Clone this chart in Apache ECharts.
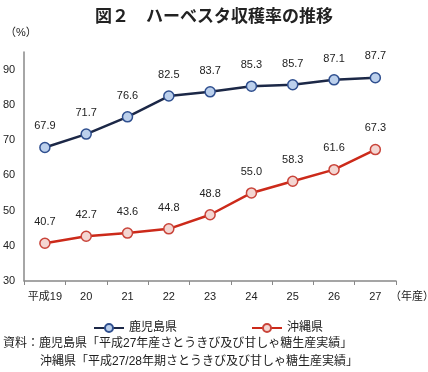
<!DOCTYPE html>
<html><head><meta charset="utf-8">
<script src="https://cdn.jsdelivr.net/npm/echarts@6/dist/echarts.min.js"></script>
<style>html,body{margin:0;padding:0;background:#fff}#c{width:428px;height:372px}</style>
</head><body><div id="c"></div>
<script>
const categories = ['平成19','20','21','22','23','24','25','26','27'];
const kagoshima = [67.9,71.7,76.6,82.5,83.7,85.3,85.7,87.1,87.7];
const okinawa = [40.7,42.7,43.6,44.8,48.8,55.0,58.3,61.6,67.3];
const seriesNames = ['鹿児島県','沖縄県'];
const font = '"Liberation Sans", "Noto Sans CJK JP", sans-serif';
const chart = echarts.init(document.getElementById('c'));
chart.setOption({
  animation:false,
  textStyle:{fontFamily:font},
  title:{text:'図２　ハーベスタ収穫率の推移',left:'center',top:2,textStyle:{fontSize:17,fontWeight:'bold',color:'#222',fontFamily:'"Noto Sans CJK JP", sans-serif'}},
  grid:{left:22,right:32,top:52,bottom:91},
  legend:{top:317,left:88,itemGap:74,itemWidth:30,itemHeight:10,textStyle:{fontSize:12,color:'#222'},data:seriesNames},
  xAxis:{type:'category',data:categories,boundaryGap:true,
    axisLine:{lineStyle:{color:'#888',width:1.5}},
    axisTick:{show:true,length:4,lineStyle:{color:'#888'}},
    axisLabel:{fontSize:11,color:'#222',margin:10,interval:0}},
  yAxis:{type:'value',min:30,max:95,interval:10,
    axisLine:{show:true,lineStyle:{color:'#888',width:1.5}},
    axisTick:{show:false},splitLine:{show:false},
    axisLabel:{fontSize:11,color:'#222',margin:9,showMaxLabel:false,formatter:v=>v%10===0?v:''}},
  graphic:[
    {type:'text',left:5,top:27,style:{text:'（%）',fill:'#222',font:'11px '+font}},
    {type:'text',left:390,top:290,style:{text:'（年産）',fill:'#222',font:'11px "Noto Sans CJK JP"'}},
    {type:'text',left:3,top:338,style:{text:'資料：鹿児島県「平成27年産さとうきび及び甘しゃ糖生産実績」',fill:'#222',font:'12px '+font}},
    {type:'text',left:40,top:356,style:{text:'沖縄県「平成27/28年期さとうきび及び甘しゃ糖生産実績」',fill:'#222',font:'12px '+font}}
  ],
  series:[
    {name:seriesNames[0],type:'line',data:kagoshima,symbol:'circle',symbolSize:10,
     lineStyle:{color:'#1c2847',width:2.5},
     itemStyle:{color:'#bcd0ec',borderColor:'#2f4f8f',borderWidth:1.5},
     label:{show:true,position:'top',distance:10,fontSize:11,color:'#222',formatter:p=>p.value.toFixed(1)}},
    {name:seriesNames[1],type:'line',data:okinawa,symbol:'circle',symbolSize:10,
     lineStyle:{color:'#cc2a1a',width:2.5},
     itemStyle:{color:'#f4d6d2',borderColor:'#c9443a',borderWidth:1.5},
     label:{show:true,position:'top',distance:10,fontSize:11,color:'#222',formatter:p=>p.value.toFixed(1)}}
  ]
});
</script></body></html>
